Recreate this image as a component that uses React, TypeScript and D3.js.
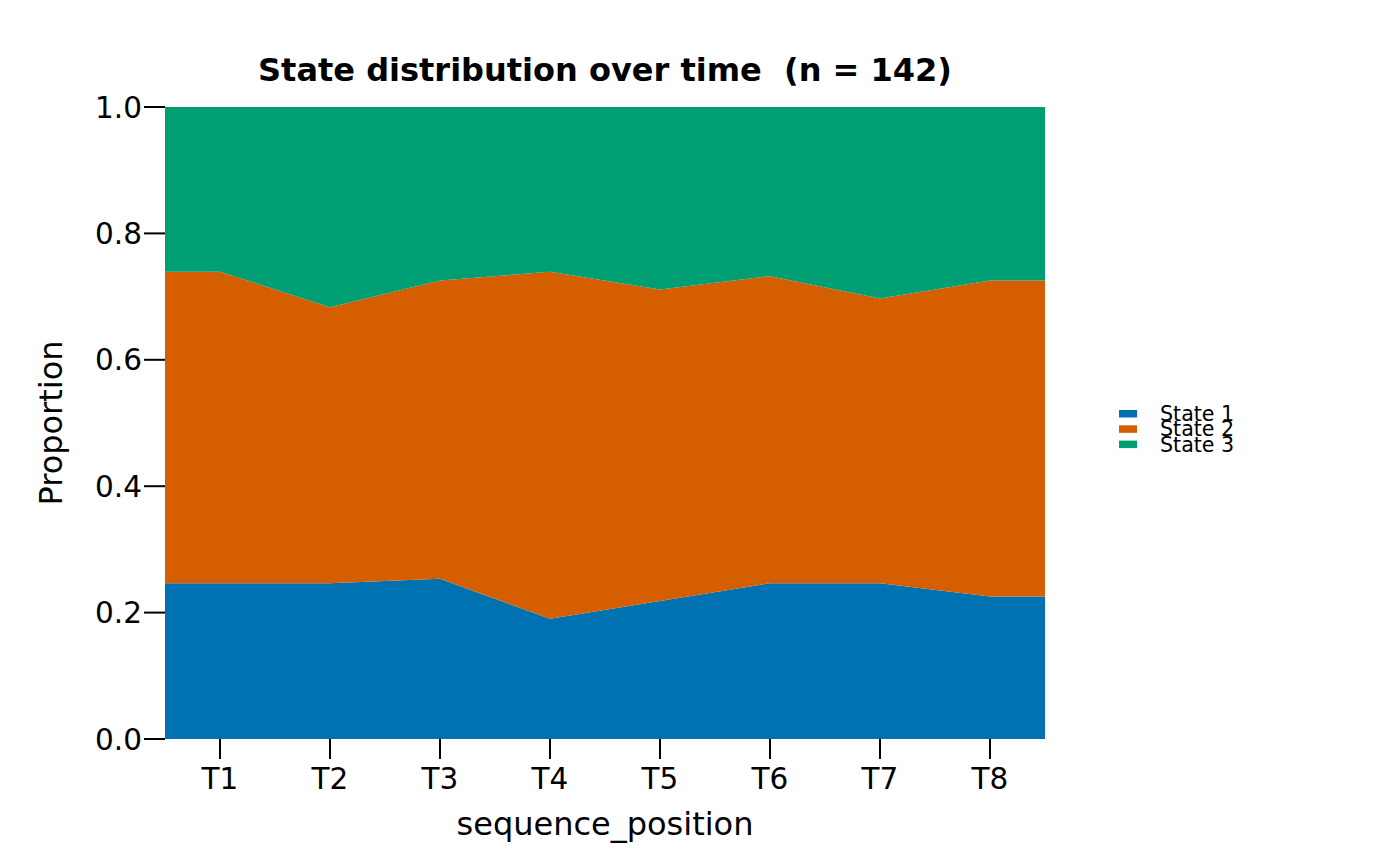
import { useEffect, useRef } from 'react';
import * as d3 from 'd3';

// counts per time point, n = 142
const timePoints = ['T1', 'T2', 'T3', 'T4', 'T5', 'T6', 'T7', 'T8'];
const states = ['State 1', 'State 2', 'State 3'];
const state1 = [35, 35, 36, 27, 31, 35, 35, 32];
const state2 = [70, 62, 67, 78, 70, 69, 64, 71];
const state3 = [37, 45, 39, 37, 41, 38, 43, 39];
const yTicks = [0, 0.2, 0.4, 0.6, 0.8, 1.0];
const colors = ['#0072B2', '#D55E00', '#009E73'];
const total = 142;

const W = 1400;
const H = 866;
const FONT = 'DejaVu Sans, sans-serif';

export default function App() {
  const svgRef = useRef<SVGSVGElement>(null);

  useEffect(() => {
    if (!svgRef.current) return;
    const svg = d3.select(svgRef.current);
    svg.selectAll('*').remove();

    const rows = timePoints.map((t, i) => ({
      pos: i + 1,
      'State 1': state1[i] / total,
      'State 2': state2[i] / total,
      'State 3': state3[i] / total,
    }));
    // stretch first/last values to the panel edges
    const padded = [
      { ...rows[0], pos: 0.5 },
      ...rows,
      { ...rows[rows.length - 1], pos: timePoints.length + 0.5 },
    ];

    const x = d3.scaleLinear().domain([0.5, timePoints.length + 0.5]).range([165, 1045]);
    const y = d3.scaleLinear().domain([0, 1]).range([739, 107]);

    const series = d3.stack<any>().keys(states)(padded);

    const area = d3.area<any>()
      .x(d => x(d.data.pos))
      .y0(d => y(d[0]))
      .y1(d => y(d[1]));

    svg.append('g')
      .selectAll('path')
      .data(series)
      .enter().append('path')
      .attr('d', area)
      .attr('fill', (_, i) => colors[i]);

    // y axis ticks
    const gy = svg.append('g');
    gy.selectAll('line')
      .data(yTicks)
      .enter().append('line')
      .attr('x1', 144).attr('x2', 165)
      .attr('y1', d => y(d)).attr('y2', d => y(d))
      .attr('stroke', '#000').attr('stroke-width', 2);
    gy.selectAll('text')
      .data(yTicks)
      .enter().append('text')
      .attr('x', 142)
      .attr('y', d => y(d))
      .attr('dy', '0.36em')
      .attr('text-anchor', 'end')
      .style('font-family', FONT)
      .style('font-size', '29.5px')
      .text(d => d3.format('.1f')(d));

    // x axis ticks
    const gx = svg.append('g');
    gx.selectAll('line')
      .data(timePoints)
      .enter().append('line')
      .attr('x1', (_, i) => x(i + 1)).attr('x2', (_, i) => x(i + 1))
      .attr('y1', 739).attr('y2', 759)
      .attr('stroke', '#000').attr('stroke-width', 2);
    gx.selectAll('text')
      .data(timePoints)
      .enter().append('text')
      .attr('x', (_, i) => x(i + 1))
      .attr('y', 789)
      .attr('text-anchor', 'middle')
      .style('font-family', FONT)
      .style('font-size', '29.5px')
      .text(d => d);

    // titles
    svg.append('text')
      .attr('x', 605).attr('y', 81)
      .attr('text-anchor', 'middle')
      .style('font-family', FONT)
      .style('font-size', '32px')
      .style('font-weight', 'bold')
      .style('white-space', 'pre')
      .text(`State distribution over time  (n = ${total})`);

    svg.append('text')
      .attr('x', 605).attr('y', 835)
      .attr('text-anchor', 'middle')
      .style('font-family', FONT)
      .style('font-size', '32px')
      .text('sequence_position');

    svg.append('text')
      .attr('transform', 'translate(62,423) rotate(-90)')
      .attr('text-anchor', 'middle')
      .style('font-family', FONT)
      .style('font-size', '32px')
      .text('Proportion');

    // legend
    const lg = svg.append('g');
    states.forEach((s, i) => {
      const yy = 410 + i * 15.3;
      lg.append('rect')
        .attr('x', 1119).attr('y', yy)
        .attr('width', 18).attr('height', 7.5)
        .attr('fill', colors[i]);
      lg.append('text')
        .attr('x', 1160).attr('y', yy + 11)
        .style('font-family', FONT)
        .style('font-size', '20.6px')
        .text(s);
    });
  }, []);

  return (
    <svg ref={svgRef} width={W} height={H} style={{ display: 'block', margin: -8 }} />
  );
}
